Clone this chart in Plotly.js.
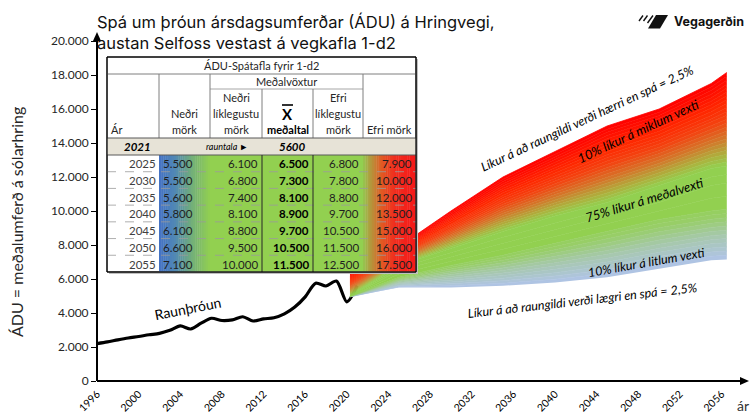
<!DOCTYPE html>
<html>
<head>
<meta charset="utf-8">
<script src="https://cdn.plot.ly/plotly-3.0.1.min.js"></script>
<style>html,body{margin:0;padding:0;background:#fff;}#chart{width:753px;height:417px;}</style>
</head>
<body>
<div id="chart"></div>
<script>
// ---------- DATA ----------
const histYears = [1996,1997,1998,1999,2000,2001,2002,2003,2004,2005,2006,2007,2008,2009,2010,2011,2012,2013,2014,2015,2016,2017,2018,2019,2020,2021];
const histValues = [2200,2300,2420,2530,2620,2720,2800,2980,3240,3060,3400,3690,3560,3600,3780,3530,3650,3720,3950,4350,4950,5750,5590,5880,4660,5600];

const tableYears   = [2025,2030,2035,2040,2045,2050,2055];
const lowerBound   = [5500,5500,5600,5800,6100,6600,7100];
const lowerLikely  = [6100,6800,7400,8100,8800,9500,10000];
const meanValue    = [6500,7300,8100,8900,9700,10500,11500];
const upperLikely  = [6800,7800,8800,9700,10500,11500,12500];
const upperBound   = [7900,10000,12000,13500,15000,16000,17500];
const realYear = 2021;
const realValue = 5600;

// fan edges (start just after the dip, end at right edge)
const fanEdgeYears = [2020.3, 2056.5];
const fanStartValues = [4950, 4980, 5000, 5020, 6400];   // lower, lowerLikely, mean, upperLikely, upper
const fanEndValues   = [7150, 10100, 11650, 12650, 18150];

const xTickYears = [1996,2000,2004,2008,2012,2016,2020,2024,2028,2032,2036,2040,2044,2048,2052,2056];
const yTickValues = [0,2000,4000,6000,8000,10000,12000,14000,16000,18000,20000];

// ---------- LAYOUT GEOMETRY ----------
const W=753,H=417,L=97,R=21,T=41,B=36;
const PW=W-L-R, PH=H-T-B;
const px = x => (x-L)/PW;
const py = y => (H-B-y)/PH;

function mix(c1,c2,f){return c1.map((v,i)=>Math.round(v+(c2[i]-v)*f));}
function gradColor(stops,t){
  for(let i=0;i<stops.length-1;i++){
    if(t<=stops[i+1][0]){const f=(t-stops[i][0])/(stops[i+1][0]-stops[i][0]);const c=mix(stops[i][1],stops[i+1][1],f);return 'rgb('+c.join(',')+')';}
  }
  return 'rgb('+stops[stops.length-1][1].join(',')+')';
}

// ---------- FAN ----------
const fanX = [fanEdgeYears[0]].concat(tableYears,[fanEdgeYears[1]]);
const sections = [lowerBound,lowerLikely,meanValue,upperLikely,upperBound].map((arr,i)=>[fanStartValues[i]].concat(arr,[fanEndValues[i]]));
const fanStops = [
  [0,[176,196,232]],[0.5,[166,200,170]],[0.85,[152,206,105]],[1.2,[146,208,80]],
  [3.0,[146,208,80]],[3.12,[172,178,62]],[3.3,[212,118,42]],[3.5,[244,66,16]],[3.7,[255,38,0]],[4.0,[255,0,0]]
];
const nSub = [12,2,2,24];
const traces = [];
traces.push({x:histYears,y:histValues,type:'scatter',mode:'lines',line:{color:'#000',width:3.2,shape:'spline',smoothing:0.8},hoverinfo:'skip',showlegend:false});
traces.push({x:fanX,y:sections[0],type:'scatter',mode:'lines',line:{width:0},hoverinfo:'skip',showlegend:false});
for(let s=0;s<4;s++){
  for(let j=1;j<=nSub[s];j++){
    const f=j/nSub[s];
    const yy=sections[s].map((v,i)=>v+(sections[s+1][i]-v)*f);
    const col=gradColor(fanStops,s+(j-0.5)/nSub[s]);
    traces.push({x:fanX,y:yy,type:'scatter',mode:'lines',fill:'tonexty',fillcolor:col,line:{width:0.8,color:col},hoverinfo:'skip',showlegend:false});
  }
}

// ---------- SHAPES ----------
const shapes=[];
function rectP(x0,y0,x1,y1,fill,lineColor,lw){shapes.push({type:'rect',xref:'paper',yref:'paper',x0:px(x0),x1:px(x1),y0:py(y1),y1:py(y0),fillcolor:fill,line:{color:lineColor||fill,width:lw===undefined?0:lw},layer:'above'});}
function lineP(x0,y0,x1,y1,color,w,dash){shapes.push({type:'line',xref:'paper',yref:'paper',x0:px(x0),x1:px(x1),y0:py(y0),y1:py(y1),line:{color:color,width:w,dash:dash||'solid'},layer:'above'});}
function pathP(pts,fill){let d='';pts.forEach((p,i)=>{d+=(i?'L':'M')+px(p[0])+','+py(p[1]);});d+='Z';shapes.push({type:'path',xref:'paper',yref:'paper',path:d,fillcolor:fill,line:{width:0},layer:'above'});}

// axes with arrows
lineP(97,381,742,381,'#000',2);
pathP([[749,381],[740,377],[740,385]],'#000');
lineP(97,381,97,40,'#000',2);
pathP([[97,32],[93,41],[101,41]],'#000');

// table geometry
const tx0=107, tx1=416, ty0=57;
const colX=[107,159,210,262,313,363,416];
const rowTitle=74, rowMed=89, rowHead=138, row2021=155;
const rowH=16.71;
const tyEnd=row2021+rowH*tableYears.length;
rectP(tx0+2,ty0+2,tx1+2,tyEnd+2,'#bfbfbf');
rectP(tx0,ty0,tx1,tyEnd,'#ffffff','#000',1);
rectP(tx0+0.5,rowHead,tx1-0.5,row2021,'#e7e3d7');
// gradient columns
const lowStops=[[0,[68,114,196]],[0.3,[80,135,182]],[0.65,[115,175,120]],[1,[146,208,80]]];
const highStops=[[0,[146,200,80]],[0.15,[180,150,60]],[0.35,[225,90,35]],[0.6,[240,45,30]],[1,[245,25,25]]];
const nStrip=24;
for(let k=0;k<nStrip;k++){
  const a=colX[1]+(colX[2]-colX[1])*k/nStrip, b=colX[1]+(colX[2]-colX[1])*(k+1)/nStrip+0.4;
  rectP(a,row2021,b,tyEnd-0.5,gradColor(lowStops,(k+0.5)/nStrip));
  const c=colX[5]+(colX[6]-colX[5])*k/nStrip, d=Math.min(colX[5]+(colX[6]-colX[5])*(k+1)/nStrip+0.4,tx1-0.5);
  rectP(c,row2021,d,tyEnd-0.5,gradColor(highStops,(k+0.5)/nStrip));
}
rectP(colX[2],row2021,colX[5],tyEnd-0.5,'#92d050');
// header lines
lineP(tx0,rowTitle,tx1,rowTitle,'#7f7f7f',1);
lineP(colX[2],rowMed,colX[5],rowMed,'#a6a6a6',1);
lineP(colX[1],rowTitle,colX[1],rowHead,'#7f7f7f',1);
lineP(colX[2],rowTitle,colX[2],rowHead,'#7f7f7f',1);
lineP(colX[3],rowMed,colX[3],rowHead,'#7f7f7f',1);
lineP(colX[4],rowMed,colX[4],rowHead,'#7f7f7f',1);
lineP(colX[5],rowTitle,colX[5],rowHead,'#7f7f7f',1);
lineP(tx0,rowHead,tx1,rowHead,'#595959',1);
lineP(tx0,row2021,tx1,row2021,'#595959',1);
for(let k=1;k<tableYears.length;k++){lineP(tx0,row2021+rowH*k,tx1,row2021+rowH*k,'#9a9a9a',0.8,'dash');}
lineP(colX[3],row2021,colX[3],tyEnd,'#262626',1);
lineP(colX[4],row2021,colX[4],tyEnd,'#262626',1);
rectP(tx0,ty0,tx1,tyEnd,'rgba(0,0,0,0)','#000',1);
// overline for X
lineP(282,105,293,105,'#000',1.6);

// logo
pathP([[656,15],[668,15],[660,28.5],[648,28.5]],'#111');
lineP(639,21,643,15.5,'#111',1.4);
lineP(643.5,21,647.5,15.5,'#111',1.4);
lineP(647.5,23,653,15.5,'#111',1.4);

// ---------- ANNOTATIONS ----------
const ann=[];
const TF='Lato, "Open Sans", sans-serif';
function txt(x,y,text,opt){opt=opt||{};ann.push({xref:'paper',yref:'paper',x:px(x),y:py(y),text:text,showarrow:false,xanchor:opt.xa||'center',yanchor:'middle',textangle:opt.angle||0,font:{family:opt.family||TF,size:opt.size||11,color:opt.color||'#262626'}});}
const fmt=v=>String(v).replace(/\B(?=(\d{3})+(?!\d))/g,'.');

// table texts
txt((tx0+tx1)/2,65.5,'ÁDU-Spátafla fyrir 1-d2',{size:11});
txt((colX[2]+colX[5])/2,81.5,'Meðalvöxtur',{size:11});
txt(109,129,'Ár',{xa:'left'});
txt((colX[1]+colX[2])/2,113,'Neðri');txt((colX[1]+colX[2])/2,129,'mörk');
txt((colX[2]+colX[3])/2,97,'Neðri');txt((colX[2]+colX[3])/2,113,'líklegustu');txt((colX[2]+colX[3])/2,129,'mörk');
txt((colX[3]+colX[4])/2,114,'<b>X</b>',{size:15,color:'#000'});txt((colX[3]+colX[4])/2,129,'<b>meðaltal</b>',{color:'#000'});
txt((colX[4]+colX[5])/2,97,'Efri');txt((colX[4]+colX[5])/2,113,'líklegustu');txt((colX[4]+colX[5])/2,129,'mörk');
txt((colX[5]+colX[6])/2,129,'Efri mörk');
txt((colX[0]+colX[1])/2+4,146.5,'<b><i>'+realYear+'</i></b>',{size:11.5,color:'#000'});
txt(227,146.5,'<i>rauntala ►</i>',{size:9,color:'#000'});
txt(292,146.5,'<b><i>'+realValue+'</i></b>',{size:11.5,color:'#000'});
tableYears.forEach((yr,i)=>{
  const yc=row2021+rowH*(i+0.5)+0.5;
  txt(158,yc,String(yr),{xa:'right',size:11.5,color:'#404040'});
  txt(161,yc,fmt(lowerBound[i]),{xa:'left',size:11.5,color:'#1f1f1f'});
  txt(260,yc,fmt(lowerLikely[i]),{xa:'right',size:11.5,color:'#1f1f1f'});
  txt(311,yc,'<b>'+fmt(meanValue[i])+'</b>',{xa:'right',size:11.5,color:'#000'});
  txt(361,yc,fmt(upperLikely[i]),{xa:'right',size:11.5,color:'#1f1f1f'});
  txt(414,yc,fmt(upperBound[i]),{xa:'right',size:11.5,color:'#1f1f1f'});
});

// chart texts
txt(587,119,'<i>Líkur á að raungildi verði hærri en spá = 2,5%</i>',{angle:-25,size:12.5,color:'#000'});
txt(638,131,'<i>10% líkur á miklum vexti</i>',{angle:-25,size:13,color:'#000'});
txt(644,200,'<i>75% líkur á meðalvexti</i>',{angle:-17,size:13,color:'#000'});
txt(646,262,'<i>10% líkur á litlum vexti</i>',{angle:-10,size:12.5,color:'#000'});
txt(582,300,'<i>Líkur á að raungildi verði lægri en spá = 2,5%</i>',{angle:-6.5,size:12.5,color:'#000'});
txt(187,308,'Raunþróun',{angle:-11,size:14,color:'#000'});
txt(16,222,'ÁDU = meðalumferð á sólarhring',{angle:-90,size:16,color:'#262626'});
txt(743,405,'ár',{size:14,color:'#333'});
txt(709,22,'<b>Vegagerðin</b>',{family:'Inter, "Noto Sans", sans-serif',size:12.5,color:'#111'});

const layout={
  width:W,height:H,
  margin:{l:L,r:R,t:T,b:B,pad:0},
  paper_bgcolor:'#fff',plot_bgcolor:'#fff',
  separators:',.',
  showlegend:false,
  title:{text:'Spá um þróun ársdagsumferðar (ÁDU) á Hringvegi,<br>austan Selfoss vestast á vegkafla 1-d2',xref:'container',yref:'container',x:97/W,xanchor:'left',y:1-28/H,yanchor:'top',font:{family:'Inter, "Noto Sans", sans-serif',size:16.5,color:'#111'}},
  xaxis:{range:[1996,2057],tickvals:xTickYears,ticktext:xTickYears.map(String),tickangle:-45,ticks:'',ticklabelstandoff:4,showgrid:false,zeroline:false,showline:false,tickfont:{family:TF,size:10.5,color:'#000'},fixedrange:true},
  yaxis:{range:[0,20000],tickvals:yTickValues,tickformat:',d',ticks:'outside',ticklen:5,tickwidth:1,tickcolor:'#000',showgrid:false,zeroline:false,showline:false,tickfont:{family:TF,size:12,color:'#262626'},fixedrange:true},
  shapes:shapes,annotations:ann
};
Plotly.newPlot('chart',traces,layout,{displayModeBar:false,staticPlot:true});
</script>
</body>
</html>
